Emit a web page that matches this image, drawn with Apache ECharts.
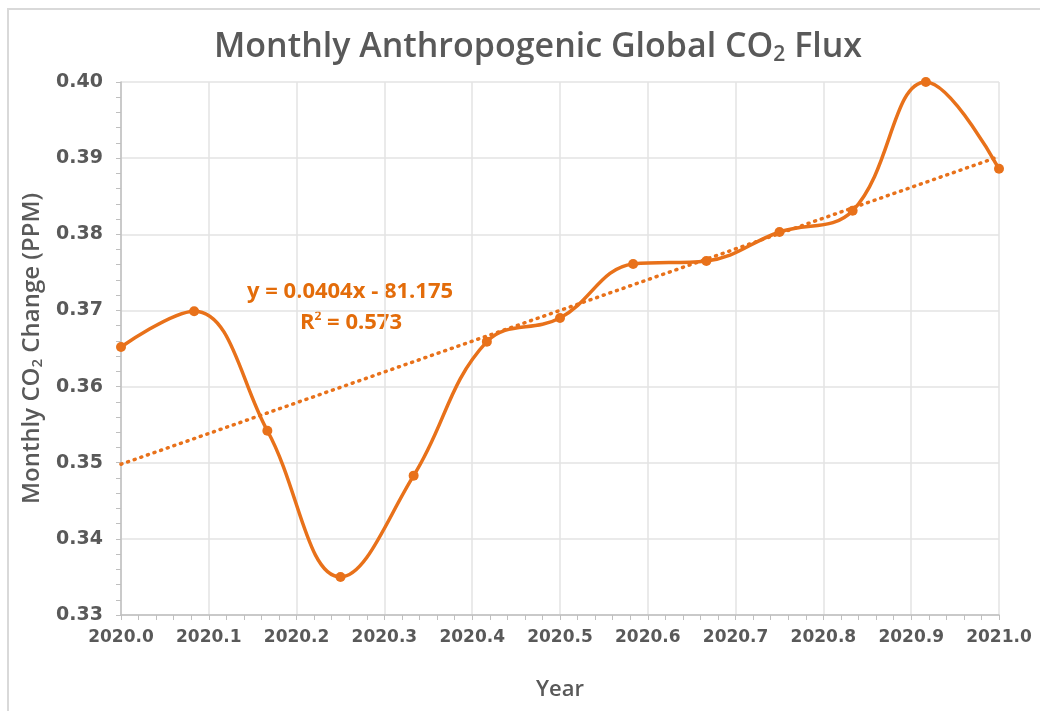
<!DOCTYPE html>
<html>
<head>
<meta charset="utf-8">
<script src="https://cdn.jsdelivr.net/npm/echarts@6/dist/echarts.min.js"></script>
<style>
html,body{margin:0;padding:0;background:#fff;}
#chart{width:1040px;height:711px;}
</style>
</head>
<body>
<div id="chart"></div>
<script>
// Data
var years = [2020.0, 2020.0833, 2020.1667, 2020.25, 2020.3333, 2020.4167, 2020.5, 2020.5833, 2020.6667, 2020.75, 2020.8333, 2020.9167, 2021.0];
var flux = [0.3652, 0.3699, 0.3542, 0.3350, 0.3483, 0.3659, 0.3690, 0.3761, 0.3765, 0.3803, 0.3831, 0.4000, 0.3886];
var trendYears = [2020.0, 2021.0];
var trendValues = [0.3498, 0.3902];
var xTicks = ['2020.0','2020.1','2020.2','2020.3','2020.4','2020.5','2020.6','2020.7','2020.8','2020.9','2021.0'];
var equationText = 'y = 0.0404x - 81.175';
var r2Text = '0.573';

var orange = '#E8711A';
var textOrange = '#E36C0A';
var gray = '#595959';
var chart = echarts.init(document.getElementById('chart'), null, {renderer:'canvas'});

var option = {
  backgroundColor: '#ffffff',
  animation: false,
  title: {
    text: '{t|Monthly Anthropogenic Global CO}{s|2}{t| Flux}',
    left: 209,
    top: 24,
    textStyle: {
      rich: {
        t: {fontFamily: 'Open Sans', fontWeight: 600, fontSize: 34, color: gray},
        s: {fontFamily: 'Open Sans', fontWeight: 600, fontSize: 21, color: gray, padding: [16,0,0,0]}
      }
    }
  },
  grid: {left: 121, right: 41, top: 82, bottom: 96},
  xAxis: {
    type: 'value',
    min: 2020.0, max: 2021.0, interval: 0.1,
    name: 'Year',
    nameLocation: 'middle',
    nameGap: 64,
    nameTextStyle: {fontFamily: 'Open Sans', fontWeight: 600, fontSize: 22, color: gray},
    axisLine: {show: true, lineStyle: {color: '#bfbfbf', width: 1.5}},
    axisTick: {show: true, length: 5, lineStyle: {color: '#bfbfbf'}},
    minorTick: {show: true, splitNumber: 5, length: 5, lineStyle: {color: '#bfbfbf'}},
    splitLine: {show: true, lineStyle: {color: '#e3e3e3', width: 1.5}},
    axisLabel: {
      margin: 14,
      fontFamily: 'DejaVu Sans', fontWeight: 'bold', fontSize: 17, color: gray,
      formatter: function (v) { return xTicks[Math.round((v - 2020) * 10)] || ''; }
    }
  },
  yAxis: {
    type: 'value',
    min: 0.33, max: 0.40, interval: 0.01,
    name: '{t|Monthly CO}{s|2}{t| Change (PPM)}',
    nameLocation: 'middle',
    nameGap: 72,
    nameTextStyle: {
      rich: {
        t: {fontFamily: 'Open Sans', fontWeight: 600, fontSize: 24, color: gray},
        s: {fontFamily: 'Open Sans', fontWeight: 600, fontSize: 15, color: gray, padding: [12,0,0,0]}
      }
    },
    axisLine: {show: true, lineStyle: {color: '#bfbfbf', width: 1.5}},
    axisTick: {show: true, length: 5, lineStyle: {color: '#bfbfbf'}},
    minorTick: {show: true, splitNumber: 5, length: 5, lineStyle: {color: '#bfbfbf'}},
    splitLine: {show: true, lineStyle: {color: '#e3e3e3', width: 1.5}},
    axisLabel: {
      margin: 18,
      fontFamily: 'DejaVu Sans', fontWeight: 'bold', fontSize: 19, color: gray,
      formatter: function (v) { return v.toFixed(2); }
    }
  },
  series: [
    {
      type: 'line',
      data: trendYears.map(function (x, i) { return [x, trendValues[i]]; }),
      showSymbol: false,
      symbol: 'none',
      lineStyle: {color: orange, width: 3.5, type: [1, 6], cap: 'round'},
      z: 2
    },
    {
      type: 'line',
      data: years.map(function (x, i) { return [x, flux[i]]; }),
      smooth: 0.4,
      symbol: 'circle',
      symbolSize: 10,
      itemStyle: {color: orange},
      lineStyle: {color: orange, width: 3.5},
      z: 3
    }
  ],
  graphic: [
    {type: 'rect', shape: {x: 8, y: 9, width: 1100, height: 800}, style: {fill: 'none', stroke: '#d9d9d9', lineWidth: 2}, silent: true},
    {type: 'text', left: 247, top: 281, style: {text: equationText, fontFamily: 'Open Sans', fontWeight: 'bold', fontSize: 22, fill: textOrange}},
    {type: 'text', left: 300, top: 311, style: {
      text: '{t|R}{p|2}{t| = ' + r2Text + '}',
      fill: textOrange,
      rich: {
        t: {fontFamily: 'Open Sans', fontWeight: 'bold', fontSize: 22, fill: textOrange, color: textOrange},
        p: {fontFamily: 'Open Sans', fontWeight: 'bold', fontSize: 12, fill: textOrange, color: textOrange, padding: [0,0,11,0]}
      }
    }}
  ]
};
chart.setOption(option);
</script>
</body>
</html>
